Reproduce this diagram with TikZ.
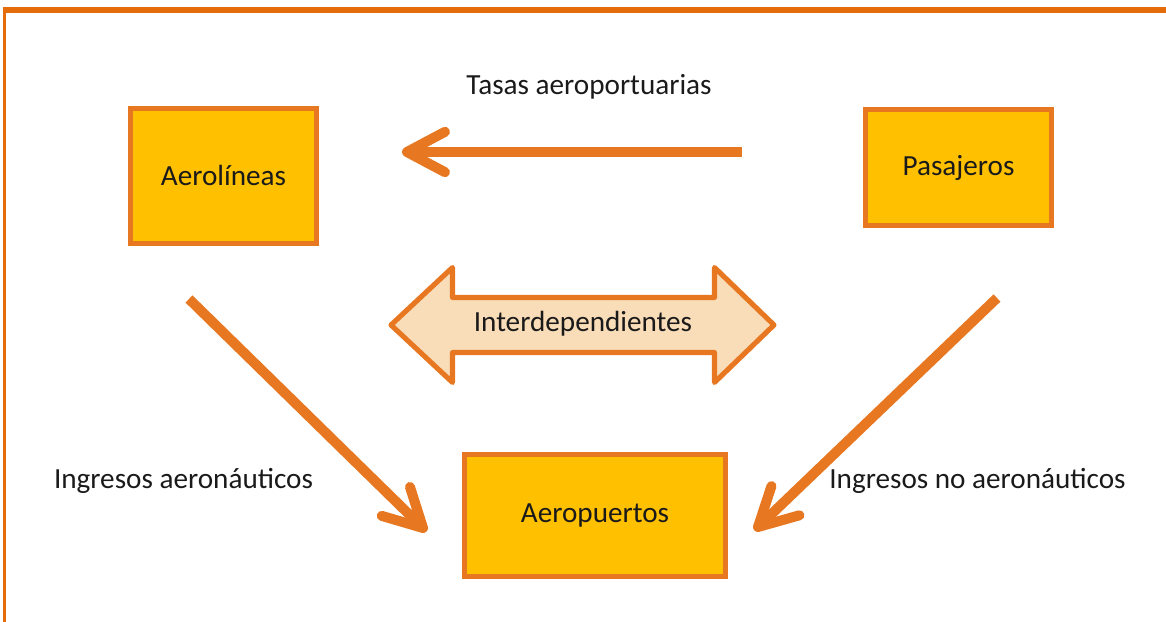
\documentclass[tikz,border=0pt]{standalone}
\usepackage{fontspec}
\setmainfont{Carlito}
\usetikzlibrary{calc}
\definecolor{frameor}{HTML}{E46C0A}
\definecolor{arrowor}{HTML}{E87722}
\definecolor{boxfill}{HTML}{FFC000}
\definecolor{peach}{HTML}{F9DCB8}
\definecolor{txt}{HTML}{1A1A1A}
\begin{document}
\begin{tikzpicture}[x=0.01cm,y=-0.01cm,
  txtfont/.style={font=\fontsize{8.3}{10}\selectfont, text=txt},
  box/.style={draw=arrowor, fill=boxfill, line width=1.45pt, inner sep=0pt, txtfont},
  lbl/.style={inner sep=0pt, txtfont},
  shaft/.style={draw=arrowor, line width=2.85pt, line cap=butt},
  barb/.style={draw=arrowor, line width=2.85pt, line cap=round, line join=round},
  dbl/.style={draw=arrowor, fill=peach, line width=1.45pt, line join=round},
  frame/.style={draw=frameor}]
\useasboundingbox (0,0) rectangle (1166,622);
% frame
\draw[frame, line width=0.85pt] (4.5,640) -- (4.5,7);
\draw[frame, line width=1.7pt] (3,9.7) -- (1180,9.7);
% boxes
\node[box, minimum width=1.86cm, minimum height=1.35cm] (aero) at (223.5,175.8) {Aerolíneas};
\node[box, minimum width=1.86cm, minimum height=1.16cm] (pasa) at (958.5,167.5) {Pasajeros};
\node[box, minimum width=2.61cm, minimum height=1.22cm] (port) at (595,515.5) {Aeropuertos};
% double arrow
\draw[dbl] (391,325) -- (452.5,267.5) -- (452.5,297.5) -- (714.5,297.5) -- (714.5,267.5)
  -- (774,325) -- (714.5,382.5) -- (714.5,352.5) -- (452.5,352.5) -- (452.5,382.5) -- cycle;
\node[lbl] (inter) at (583,324) {Interdependientes};
% labels
\node[lbl] (tasas) at (589,87) {Tasas aeroportuarias};
\node[lbl] (inga) at (183.5,481) {Ingresos aeronáuticos};
\node[lbl] (ingn) at (977.5,481) {Ingresos no aeronáuticos};
% arrows
\coordinate (as) at (742,152); \coordinate (ae) at (407,152);
\draw[shaft] (as) -- (ae);
\draw[barb] ($(ae)!0.43cm!28:(as)$) -- (ae) -- ($(ae)!0.43cm!-28:(as)$);
\coordinate (bs) at (189,299); \coordinate (be) at (423,528);
\draw[shaft] (bs) -- (be);
\draw[barb] ($(be)!0.43cm!28:(bs)$) -- (be) -- ($(be)!0.43cm!-28:(bs)$);
\coordinate (cs) at (997,298); \coordinate (ce) at (758,527);
\draw[shaft] (cs) -- (ce);
\draw[barb] ($(ce)!0.43cm!28:(cs)$) -- (ce) -- ($(ce)!0.43cm!-28:(cs)$);
\end{tikzpicture}
\end{document}
